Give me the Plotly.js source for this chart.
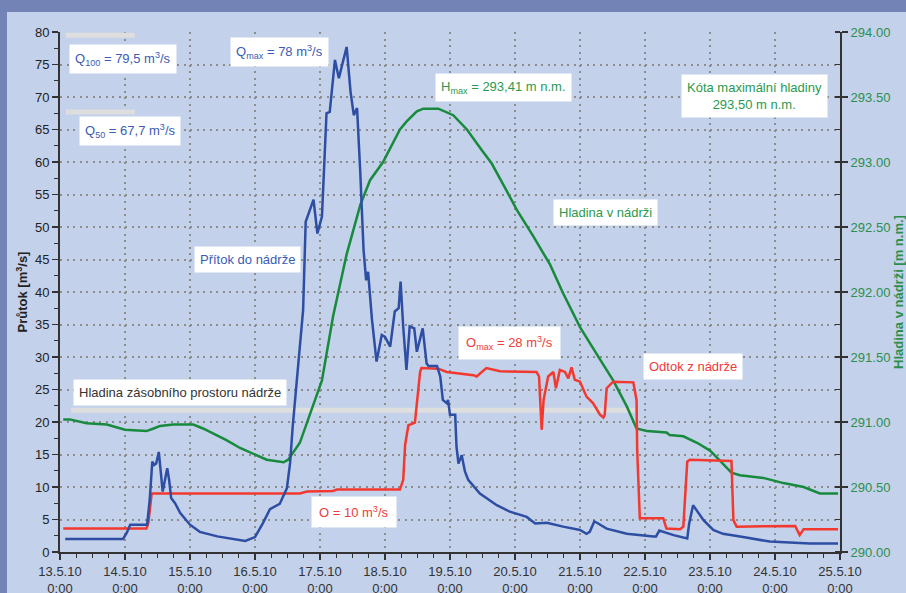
<!DOCTYPE html>
<html><head><meta charset="utf-8">
<script src="https://cdn.plot.ly/plotly-3.0.1.min.js"></script>
<style>html,body{margin:0;padding:0;background:#c3d1ea;}#chart{width:906px;height:593px;}</style>
</head><body><div id="chart"></div>
<script>
// x values are days since 13.5.2010 0:00
const xTickVals = [0,1,2,3,4,5,6,7,8,9,10,11,12];
const xTickText = ['13.5.10<br>0:00','14.5.10<br>0:00','15.5.10<br>0:00','16.5.10<br>0:00','17.5.10<br>0:00','18.5.10<br>0:00','19.5.10<br>0:00','20.5.10<br>0:00','21.5.10<br>0:00','22.5.10<br>0:00','23.5.10<br>0:00','24.5.10<br>0:00','25.5.10<br>0:00'];

// Přítok do nádrže [m3/s]
const inflowT = [0.08,0.97,1.03,1.08,1.34,1.38,1.42,1.45,1.48,1.52,1.58,1.65,1.68,1.71,1.77,1.85,2.00,2.15,2.42,2.66,2.85,3.00,3.12,3.23,3.38,3.49,3.54,3.58,3.63,3.74,3.78,3.90,3.96,4.03,4.10,4.15,4.23,4.29,4.41,4.47,4.52,4.57,4.62,4.67,4.71,4.74,4.80,4.87,4.95,5.00,5.08,5.15,5.21,5.24,5.28,5.33,5.38,5.45,5.49,5.58,5.64,5.67,5.80,5.85,5.89,5.95,5.97,6.00,6.08,6.10,6.13,6.18,6.23,6.28,6.46,6.72,6.92,7.18,7.31,7.49,7.74,8.00,8.10,8.15,8.22,8.26,8.41,8.72,9.13,9.17,9.22,9.28,9.44,9.65,9.68,9.74,9.90,10.05,10.20,10.51,10.92,11.38,11.54,11.97];
const inflowQ = [2.0,2.0,3.0,4.2,4.2,8.0,13.9,13.4,13.6,15.4,9.3,12.9,11.0,8.3,7.5,6.0,4.2,3.1,2.4,2.0,1.7,2.3,4.4,6.6,7.4,9.8,13.7,19.3,24.9,37.2,50.8,54.2,49.0,51.6,67.5,67.7,75.7,72.9,77.7,70.8,67.2,68.3,58.3,46.5,41.8,43.1,35.7,29.3,33.4,33.1,31.6,37.0,37.5,41.6,34.7,28.0,34.7,34.4,30.8,34.4,29.0,28.6,28.6,27.0,23.4,22.9,23.4,21.1,21.1,16.2,13.6,14.9,12.4,11.1,9.0,7.2,6.2,5.4,4.4,4.5,3.9,3.4,2.8,3.1,4.7,4.5,3.6,2.8,2.4,2.4,3.3,3.1,2.6,2.1,4.4,7.2,4.9,3.4,2.8,2.3,1.6,1.4,1.3,1.3];

// Odtok z nádrže [m3/s]
const outflowT = [0.05,1.33,1.36,1.41,3.69,3.80,4.20,4.26,5.23,5.28,5.31,5.36,5.46,5.50,5.54,5.56,5.82,5.95,6.36,6.41,6.56,6.77,7.33,7.37,7.41,7.44,7.51,7.59,7.63,7.69,7.77,7.82,7.87,7.92,8.00,8.10,8.20,8.31,8.36,8.38,8.41,8.51,8.82,8.87,8.88,8.92,9.28,9.33,9.54,9.59,9.65,9.69,10.33,10.36,10.41,11.31,11.38,11.44,11.97];
const outflowQ = [3.6,3.6,4.5,9.0,9.0,9.3,9.4,9.6,9.6,11.1,16.5,19.5,19.9,23.4,27.7,28.3,28.2,27.7,27.2,27.0,28.3,27.8,27.7,27.0,18.8,23.4,27.0,27.7,25.2,28.0,27.7,26.7,28.4,26.5,26.2,23.9,22.9,21.1,20.7,21.1,25.2,26.2,26.1,23.4,15.7,5.2,5.2,3.6,3.5,3.9,13.9,14.2,14.0,4.9,3.9,4.0,2.6,3.5,3.5];

// Hladina v nádrži [m n.m.]
const levelT = [0.05,0.15,0.41,0.72,1.00,1.33,1.44,1.54,1.74,2.05,2.20,2.56,2.77,3.08,3.18,3.44,3.51,3.69,3.90,4.03,4.20,4.41,4.62,4.77,4.97,5.23,5.33,5.49,5.59,5.82,6.05,6.15,6.26,6.49,6.64,6.87,7.03,7.28,7.54,7.74,8.00,8.31,8.51,8.72,8.87,9.03,9.33,9.38,9.59,9.80,10.00,10.10,10.33,10.46,10.82,11.13,11.44,11.69,11.97];
const levelH = [291.02,291.02,290.99,290.98,290.94,290.93,290.95,290.97,290.98,290.98,290.95,290.86,290.80,290.73,290.71,290.69,290.71,290.84,291.14,291.32,291.81,292.29,292.67,292.86,293.00,293.25,293.31,293.39,293.41,293.41,293.36,293.31,293.25,293.09,292.99,292.78,292.63,292.43,292.21,291.99,291.73,291.48,291.32,291.12,290.95,290.93,290.92,290.90,290.89,290.84,290.78,290.73,290.61,290.59,290.57,290.53,290.50,290.45,290.45];

// reference levels
const Q100 = 79.5, Q50 = 67.7, storageLevel = 291.09;
const qRefSpan = [0.09, 1.15];
const storageSpan = [0.17, 8.85];

const FONT = '"Liberation Sans", Arial, sans-serif';
const BLUE = '#2d4ea3', RED = '#f2392f', GREEN = '#178a3c';
const BLUE_T = '#3b5bb5', RED_T = '#f03b3b', GREEN_T = '#2b9a4e';
const GRID = '#8d8d8d';
const DASH = '2px,4.5px';

// level on main y (right side), flows on overlaying y2 (left side)
const traces = [
  {x: levelT, y: levelH, type: 'scatter', mode: 'lines', line: {color: GREEN, width: 2.5}, yaxis: 'y', name: 'Hladina v nádrži'},
  {x: outflowT, y: outflowQ, type: 'scatter', mode: 'lines', line: {color: RED, width: 2.5}, yaxis: 'y2', name: 'Odtok z nádrže'},
  {x: inflowT, y: inflowQ, type: 'scatter', mode: 'lines', line: {color: BLUE, width: 2.5}, yaxis: 'y2', name: 'Přítok do nádrže'}
];

const refShape = (x0, x1, y, yref, layer) => ({type: 'line', xref: 'x', yref: yref, x0: x0, x1: x1, y0: y, y1: y, layer: layer, line: {color: '#dedede', width: 5}});

const ann = (x, y, text, color, extra) => Object.assign({
  x: x, y: y, xref: 'x', yref: 'y2', text: text, showarrow: false,
  font: {family: FONT, size: 13, color: color}, bgcolor: '#ffffff', borderpad: 5,
  xanchor: 'center', yanchor: 'middle'
}, extra || {});

const layout = {
  width: 906, height: 593,
  margin: {l: 60, r: 66, t: 32, b: 41},
  paper_bgcolor: '#c3d1ea', plot_bgcolor: '#c3d1ea',
  showlegend: false,
  font: {family: FONT, size: 13, color: '#222'},
  xaxis: {
    range: [0, 12], tickmode: 'array', tickvals: xTickVals, ticktext: xTickText,
    showgrid: true, gridcolor: GRID, gridwidth: 2, griddash: DASH,
    showline: true, linecolor: '#333', linewidth: 2,
    ticks: 'outside', ticklen: 6, tickwidth: 1.5, tickcolor: '#333',
    minor: {tickmode: 'linear', tick0: 0, dtick: 0.25, ticks: 'outside', ticklen: 4, tickwidth: 1.2, tickcolor: '#333', showgrid: false},
    tickfont: {family: FONT, size: 13, color: '#333'}, zeroline: false
  },
  yaxis: {
    range: [290, 294], dtick: 0.5, tick0: 290, tickformat: '.2f', side: 'right',
    showgrid: true, gridcolor: GRID, gridwidth: 2, griddash: DASH,
    showline: true, linecolor: '#333', linewidth: 2,
    ticks: 'outside', ticklen: 6, tickwidth: 1.5, tickcolor: '#333',
    minor: {dtick: 0.25, tick0: 290, ticks: 'inside', ticklen: 5, tickwidth: 1.2, tickcolor: '#333', showgrid: true, gridcolor: GRID, gridwidth: 2, griddash: DASH},
    tickfont: {family: FONT, size: 13, color: '#2b8f4c'}, zeroline: false,
    title: {text: 'Hladina v nádrži [m n.m.]', font: {family: FONT, size: 13, color: '#2b8f4c', weight: 'bold'}, standoff: 10},
    automargin: false
  },
  yaxis2: {
    range: [0, 80], dtick: 5, tick0: 0, overlaying: 'y', side: 'left',
    showgrid: false, showline: true, linecolor: '#333', linewidth: 2,
    ticks: 'outside', ticklen: 6, tickwidth: 1.5, tickcolor: '#333',
    minor: {dtick: 2.5, ticks: 'outside', ticklen: 4, tickwidth: 1.2, tickcolor: '#333', showgrid: false},
    tickfont: {family: FONT, size: 13, color: '#222'}, zeroline: false,
    title: {text: 'Průtok [m<sup>3</sup>/s]', font: {family: FONT, size: 13, color: '#222', weight: 'bold'}, standoff: 4},
    automargin: false
  },
  shapes: [
    refShape(storageSpan[0], storageSpan[1], storageLevel, 'y', 'between'),
    refShape(qRefSpan[0], qRefSpan[1], Q100, 'y2', 'above'),
    refShape(qRefSpan[0], qRefSpan[1], Q50, 'y2', 'above'),
    {type: 'rect', xref: 'paper', yref: 'paper', x0: -0.2, x1: 1.2, y0: (552 - 12) / 520, y1: 1.2, fillcolor: '#7383b5', line: {width: 0}, layer: 'above'},
    {type: 'rect', xref: 'paper', yref: 'paper', x0: -0.2, x1: (7 - 60) / 780, y0: -0.2, y1: 1.2, fillcolor: '#7383b5', line: {width: 0}, layer: 'above'}
  ],
  annotations: [
    ann(0.97, 75.8, 'Q<sub>100</sub> = 79,5 m<sup>3</sup>/s', BLUE_T),
    ann(1.08, 64.7, 'Q<sub>50</sub> = 67,7 m<sup>3</sup>/s', BLUE_T),
    ann(3.37, 77.0, 'Q<sub>max</sub> = 78 m<sup>3</sup>/s', BLUE_T),
    ann(2.88, 45.0, 'Přítok do nádrže', BLUE_T),
    ann(6.83, 71.5, 'H<sub>max</sub> = 293,41 m n.m.', GREEN_T),
    ann(10.68, 70.2, 'Kóta maximální hladiny<br>293,50 m n.m.', GREEN_T),
    ann(8.39, 52.2, 'Hladina v nádrži', GREEN_T),
    ann(6.92, 32.2, 'O<sub>max</sub> = 28 m<sup>3</sup>/s', RED_T, {borderpad: 7}),
    ann(9.74, 28.6, 'Odtok z nádrže', RED_T),
    ann(4.52, 6.1, 'O = 10 m<sup>3</sup>/s', RED_T, {borderpad: 7}),
    ann(1.85, 24.5, 'Hladina zásobního prostoru nádrže', '#333')
  ]
};

Plotly.newPlot('chart', traces, layout, {displayModeBar: false, staticPlot: true});
</script>
</body></html>
